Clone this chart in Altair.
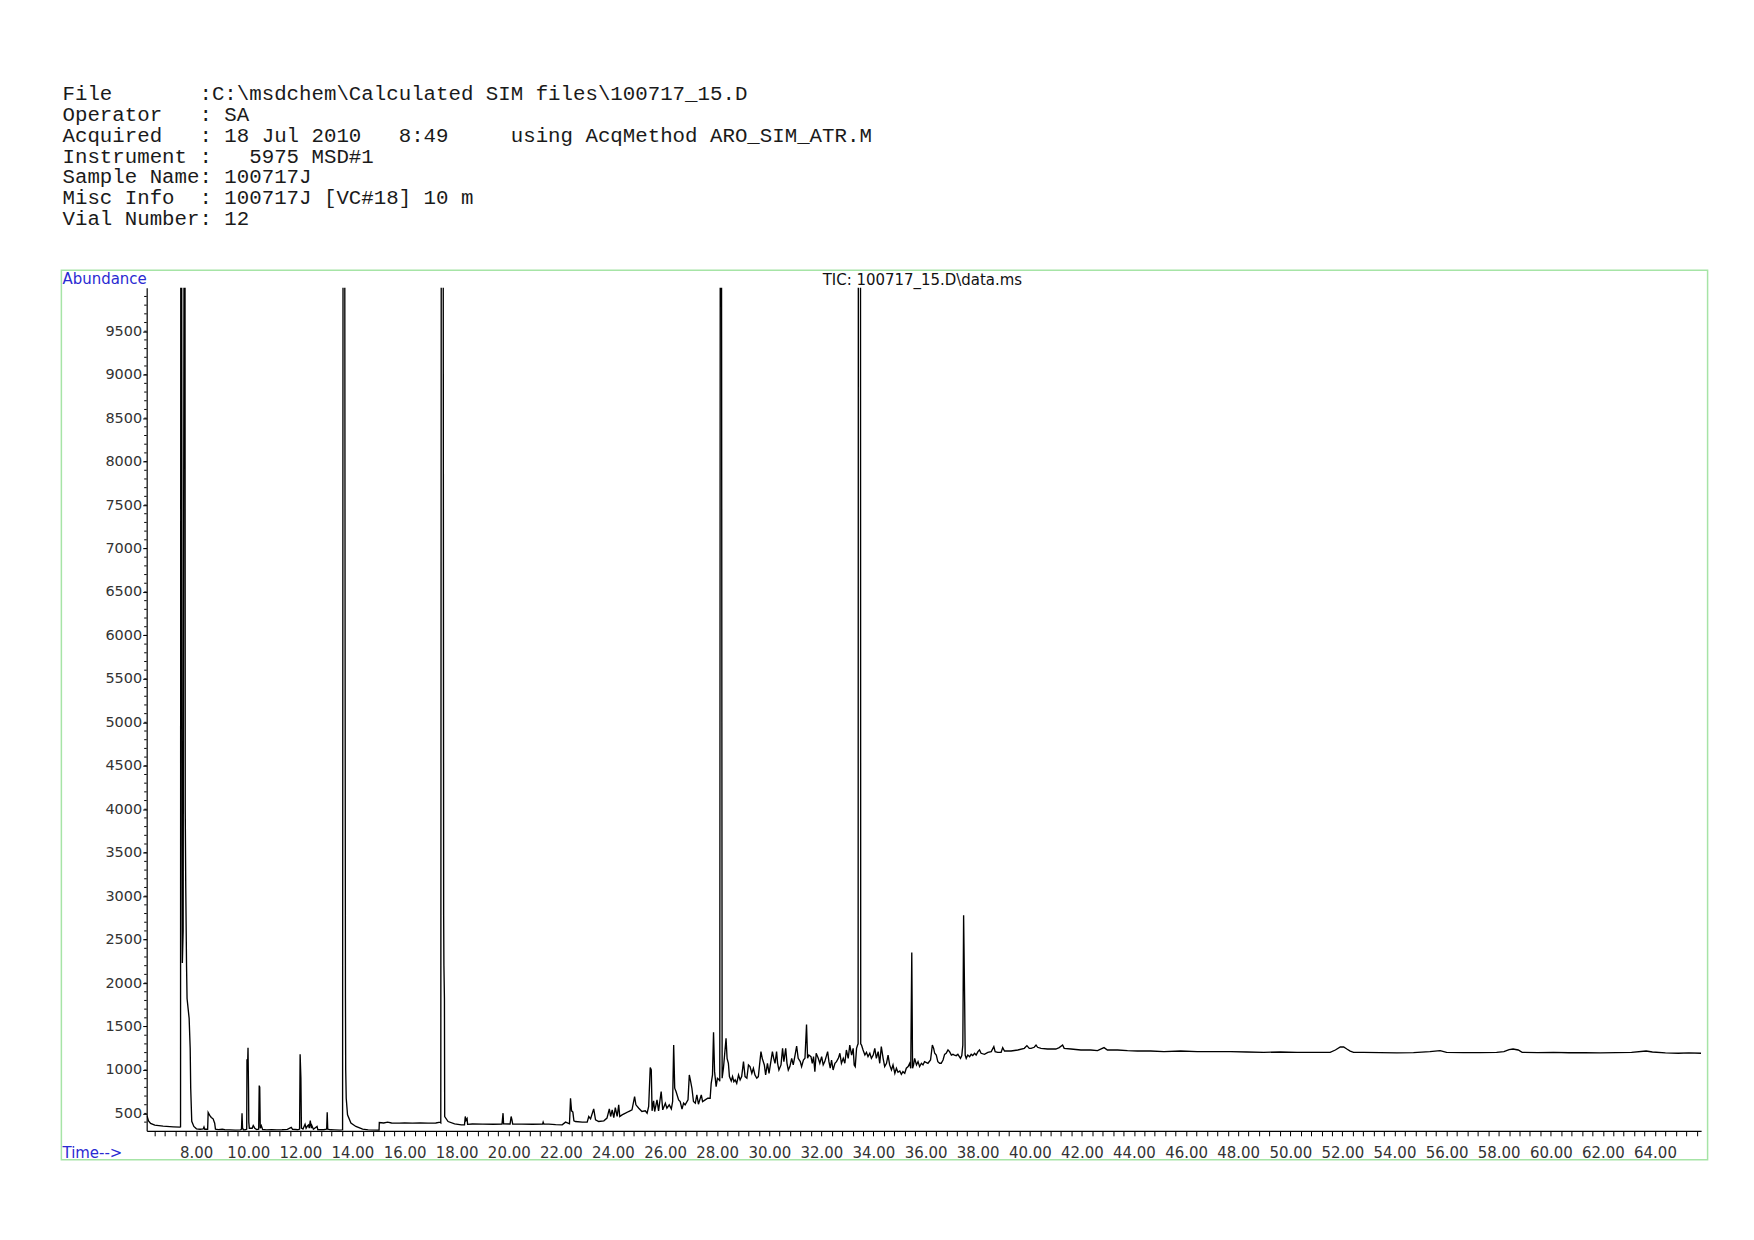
import altair as alt
import pandas as pd

# ---------------- data ----------------
# segment 1: 6.1 - 15.0 min
t_seg1 = [6.10, 6.12, 6.17, 6.25, 6.41, 6.73, 7.12, 7.38, 7.40, 7.41, 7.44, 7.46, 7.47, 7.50, 7.54, 7.57,
          7.58, 7.60, 7.63, 7.65, 7.73, 7.77, 7.79, 7.83, 7.91, 8.01, 8.15, 8.27, 8.30, 8.33, 8.44, 8.46,
          8.52, 8.58, 8.65, 8.71, 8.74, 8.85, 9.00, 9.10, 9.30, 9.50, 9.70, 9.74, 9.76, 9.78, 9.82, 9.90,
          9.94, 9.95, 9.97, 9.99, 10.01, 10.02, 10.04, 10.15, 10.19, 10.25, 10.32, 10.40, 10.42, 10.44,
          10.46, 10.50, 10.55, 10.70, 10.90, 11.10, 11.30, 11.50, 11.65, 11.70, 11.90, 11.97, 11.99, 12.02,
          12.04, 12.10, 12.18, 12.22, 12.28, 12.31, 12.34, 12.38, 12.42, 12.44, 12.50, 12.64, 12.67, 12.90,
          13.01, 13.03, 13.05, 13.15, 13.30, 13.50, 13.62, 13.64, 13.70, 13.72, 13.73, 13.74, 13.76, 13.81,
          13.94, 14.13, 14.39, 14.60, 14.80, 15.02]
a_seg1 = [475, 465, 415, 385, 365, 354, 346, 342, 345, 12000, 12000, 3580, 2230, 2600, 12000, 12000,
          4000, 3100, 2200, 1823, 1594, 1249, 790, 409, 350, 323, 318, 322, 345, 318, 318, 511,
          477, 454, 438, 388, 320, 314, 318, 312, 310, 308, 310, 320, 503, 330, 310, 312,
          320, 1122, 1000, 1256, 770, 400, 330, 330, 360, 330, 315, 320, 820, 800,
          330, 360, 315, 310, 312, 310, 312, 316, 340, 318, 312, 320, 1180, 904,
          330, 320, 376, 330, 360, 368, 330, 418, 330, 360, 318, 350, 312, 312,
          320, 514, 320, 312, 310, 308, 310, 12000, 12000, 4900, 1823, 1000, 675, 484,
          389, 350, 320, 310, 308, 307]

# segment 2: 15.0 - 22.3 min
t_seg2 = [15.03, 15.20, 15.35, 15.50, 15.80, 16.00, 16.30, 16.60, 16.90, 17.20, 17.36, 17.39, 17.41,
          17.48, 17.50, 17.51, 17.53, 17.54, 17.67, 17.92, 18.18, 18.30, 18.33, 18.36, 18.40, 18.42,
          18.60, 19.00, 19.40, 19.74, 19.78, 19.80, 20.05, 20.09, 20.12, 20.15, 20.50, 20.90, 21.30,
          21.32, 21.35, 21.54, 21.80, 22.05, 22.18, 22.33]
a_seg2 = [396, 390, 400, 390, 388, 392, 388, 390, 388, 390, 400, 392, 12000,
          12000, 2780, 2200, 1823, 464, 407, 380, 369, 370, 465, 420, 440, 375,
          378, 377, 376, 378, 503, 380, 378, 465, 430, 378, 377, 376, 378,
          400, 377, 377, 372, 369, 400, 381]

# segment 3: 22.3 - 40.7 min (rising hump)
t_seg3 = [22.37, 22.41, 22.46, 22.50, 22.56, 22.82, 23.01, 23.07, 23.14, 23.26, 23.33, 23.45, 23.65,
          23.77, 23.86, 23.91, 23.97, 24.03, 24.09, 24.16, 24.22, 24.26, 24.35, 24.48, 24.60, 24.73,
          24.83, 24.88, 24.99, 25.11, 25.24, 25.31, 25.37, 25.43, 25.47, 25.50, 25.56, 25.60, 25.69,
          25.75, 25.85, 25.91, 26.01, 26.07, 26.16, 26.24, 26.29, 26.33, 26.37, 26.42, 26.52, 26.58,
          26.65, 26.71, 26.77, 26.88, 26.93, 26.97, 27.03, 27.09, 27.16, 27.22, 27.28, 27.39, 27.44,
          27.54, 27.64, 27.73, 27.77, 27.82, 27.86, 27.90, 27.96, 28.01, 28.08, 28.10, 28.12, 28.16,
          28.17, 28.18, 28.19, 28.24, 28.34, 28.38, 28.43, 28.47, 28.54, 28.59, 28.64, 28.69, 28.75,
          28.82, 28.88, 28.94, 29.01, 29.07, 29.14, 29.20, 29.26, 29.33, 29.39, 29.45, 29.52, 29.58,
          29.68, 29.73, 29.81, 29.86, 29.93, 29.99, 30.03, 30.12, 30.17, 30.22, 30.28, 30.32, 30.37,
          30.45, 30.51, 30.56, 30.63, 30.68, 30.73, 30.79, 30.86, 30.92, 30.99, 31.05, 31.11, 31.19,
          31.24, 31.31, 31.37, 31.43, 31.47, 31.52, 31.60, 31.65, 31.70, 31.75, 31.80, 31.88, 31.94,
          32.01, 32.07, 32.13, 32.24, 32.29, 32.34, 32.39, 32.45, 32.52, 32.58, 32.65, 32.71, 32.77,
          32.84, 32.90, 32.96, 33.03, 33.09, 33.16, 33.22, 33.26, 33.30, 33.35, 33.39, 33.41, 33.42,
          33.50, 33.51, 33.54, 33.60, 33.67, 33.73, 33.79, 33.86, 33.92, 33.99, 34.05, 34.11, 34.18,
          34.24, 34.30, 34.37, 34.43, 34.50, 34.56, 34.62, 34.69, 34.75, 34.82, 34.88, 34.94, 35.01,
          35.07, 35.13, 35.20, 35.26, 35.33, 35.39, 35.43, 35.47, 35.50, 35.54, 35.58, 35.65, 35.71,
          35.77, 35.84, 35.90, 35.96, 36.09, 36.19, 36.26, 36.31, 36.35, 36.41, 36.47, 36.54, 36.60,
          36.67, 36.73, 36.79, 36.86, 36.92, 36.99, 37.05, 37.11, 37.18, 37.24, 37.34, 37.39, 37.43,
          37.46, 37.50, 37.52, 37.56, 37.62, 37.69, 37.75, 37.81, 37.88, 37.94, 38.01, 38.07, 38.13,
          38.26, 38.39, 38.52, 38.62, 38.67, 38.77, 38.90, 38.96, 39.03, 39.28, 39.54, 39.79, 39.89,
          39.98, 40.05, 40.17, 40.24, 40.30, 40.43, 40.68]
a_seg3 = [675, 530, 515, 415, 407, 400, 400, 465, 438, 553, 427, 407, 415,
          446, 553, 465, 541, 453, 568, 465, 599, 465, 484, 503, 522, 541,
          694, 599, 560, 522, 530, 503, 580, 1027, 1000, 530, 645, 522, 656,
          530, 752, 541, 618, 560, 599, 553, 637, 1287, 790, 752, 656, 637,
          549, 618, 599, 656, 943, 886, 790, 637, 618, 714, 606, 714, 637,
          656, 675, 675, 847, 943, 1433, 981, 809, 905, 886, 870, 12000, 12000,
          9400, 5000, 905, 1020, 1364, 1134, 1077, 924, 874, 924, 866, 886, 847,
          943, 886, 924, 1096, 924, 905, 1058, 1039, 962, 1020, 943, 905, 924,
          1211, 1134, 1058, 943, 1077, 962, 1039, 1211, 1134, 1077, 1211, 1077, 1000,
          1058, 1249, 1096, 1249, 1077, 1000, 1039, 1134, 1058, 1172, 1276, 1134, 1096,
          1039, 1115, 1134, 1524, 1134, 1172, 1153, 1077, 1153, 981, 1192, 1134, 1077,
          1153, 1058, 1096, 1211, 1096, 1020, 1115, 1000, 1077, 1096, 1134, 1192, 1077,
          1134, 1077, 1230, 1134, 1287, 1172, 1249, 1058, 1039, 1249, 1287, 1300, 12000,
          12000, 1300, 1287, 1230, 1172, 1203, 1153, 1192, 1134, 1172, 1249, 1134, 1211,
          1077, 1268, 1134, 1039, 1077, 1172, 1058, 1000, 1058, 962, 1020, 974, 989,
          951, 981, 962, 1020, 1039, 1077, 1020, 2351, 1020, 1058, 1134, 1058, 1096,
          1039, 1077, 1058, 1096, 1077, 1115, 1287, 1249, 1192, 1172, 1096, 1077, 1077,
          1115, 1180, 1192, 1230, 1211, 1172, 1180, 1172, 1165, 1180, 1134, 1165, 1287,
          2780, 1782, 1172, 1134, 1172, 1153, 1180, 1165, 1192, 1172, 1211, 1230, 1192,
          1180, 1203, 1211, 1268, 1211, 1203, 1203, 1257, 1218, 1218, 1230, 1249, 1280,
          1249, 1249, 1261, 1287, 1261, 1249, 1241]

# segment 4: 41 - 65.8 min (flat tail)
t_seg4 = [41.00, 41.13, 41.26, 41.32, 41.58, 41.96, 42.34, 42.60, 42.85, 42.98, 43.37, 43.75, 44.13,
          44.64, 45.15, 45.79, 46.43, 47.07, 47.71, 48.34, 48.98, 49.62, 50.26, 50.90, 51.53, 51.73,
          51.92, 52.05, 52.17, 52.30, 52.43, 52.81, 53.45, 54.09, 54.73, 55.36, 55.75, 56.00, 56.64,
          57.28, 57.92, 58.20, 58.40, 58.55, 58.75, 58.90, 59.50, 60.10, 60.70, 61.30, 61.90, 62.50,
          63.10, 63.66, 63.90, 64.40, 64.90, 65.30, 65.77]
a_seg4 = [1241, 1257, 1287, 1249, 1241, 1230, 1230, 1222, 1257, 1230, 1230, 1222, 1218,
          1218, 1211, 1218, 1211, 1211, 1211, 1207, 1203, 1207, 1203, 1203, 1203, 1230,
          1264, 1264, 1241, 1218, 1203, 1203, 1200, 1196, 1200, 1211, 1222, 1203, 1200,
          1200, 1203, 1211, 1235, 1241, 1230, 1203, 1200, 1203, 1198, 1200, 1196, 1200,
          1203, 1218, 1207, 1196, 1192, 1196, 1192]

# axis ticks
y_label_ticks = [500 * k for k in range(1, 20)]          # 500 ... 9500
y_minor_ticks = [100 * k for k in range(4, 100)]         # every 100
x_ticks = [round(6.4 + 0.4 * k, 1) for k in range(149)]  # every 0.4 min

header_lines = [
    "File       :C:\\msdchem\\Calculated SIM files\\100717_15.D",
    "Operator   : SA",
    "Acquired   : 18 Jul 2010   8:49     using AcqMethod ARO_SIM_ATR.M",
    "Instrument :   5975 MSD#1",
    "Sample Name: 100717J",
    "Misc Info  : 100717J [VC#18] 10 m",
    "Vial Number: 12",
]
plot_title = "TIC: 100717_15.D\\data.ms"

# ---------------- chart ----------------
df = pd.DataFrame({"t": t_seg1 + t_seg2 + t_seg3 + t_seg4,
                   "a": a_seg1 + a_seg2 + a_seg3 + a_seg4})

W, H = 1558, 845
XDOM = [6.1, 65.77]
YDOM = [300, 10000]
SANS = "DejaVu Sans"
BLUE = "#2a2ad2"
GREEN = "#a6e4a6"

one = pd.DataFrame({"k": [0]})

frame = alt.Chart(one).mark_rect(filled=False, stroke=GREEN, strokeWidth=1.5).encode(
    x=alt.value(-85.5), x2=alt.value(1564.5), y=alt.value(-17.5), y2=alt.value(874)
)

label_expr = ("(abs(datum.value % 2) < 0.01 || abs(datum.value % 2 - 2) < 0.01) "
              "? format(datum.value, '.2f') : ''")

y_scale = alt.Scale(domain=YDOM, nice=False, zero=False)
y_axis = alt.Axis(values=y_label_ticks, format="d", title=None, grid=False, domainColor="black",
                  domainWidth=1.2, tickColor="black", tickSize=4, tickWidth=1,
                  labelFont=SANS, labelFontSize=14.5, labelColor="#333",
                  labelPadding=1, labelOverlap=False)

line = alt.Chart(df).mark_line(color="black", strokeWidth=1.35, clip=True).encode(
    x=alt.X("t:Q", scale=alt.Scale(domain=XDOM, nice=False, zero=False),
            axis=alt.Axis(values=x_ticks, labelExpr=label_expr, title=None, grid=False,
                          domainColor="black", domainWidth=1.2, tickColor="black", tickSize=5,
                          tickWidth=1, labelFont=SANS, labelFontSize=15, labelColor="#333",
                          labelPadding=10, labelOverlap=False, labelFlush=False)),
    y=alt.Y("a:Q", scale=y_scale, axis=y_axis),
)

minor = alt.Chart(pd.DataFrame({"a": y_minor_ticks})).mark_rule(color="black", strokeWidth=1).encode(
    y=alt.Y("a:Q", scale=y_scale, axis=y_axis),
    x=alt.value(-2.5), x2=alt.value(0)
)

layers = [frame, line, minor]

for i, txt in enumerate(header_lines):
    layers.append(
        alt.Chart(one).mark_text(text=txt.replace(" ", "\u00a0"), align="left", baseline="middle",
                                 font="Liberation Mono", fontSize=20.8, color="#1a1a1a").encode(
            x=alt.value(-84.4), y=alt.value(-194.2 + 20.9 * i))
    )

layers.append(alt.Chart(one).mark_text(text="Abundance", align="left", baseline="middle",
                                       font=SANS, fontSize=15, color=BLUE).encode(
    x=alt.value(-84.4), y=alt.value(-8.5)))
layers.append(alt.Chart(one).mark_text(text="Time-->", align="left", baseline="middle",
                                       font=SANS, fontSize=15, color=BLUE).encode(
    x=alt.value(-84.4), y=alt.value(867)))
layers.append(alt.Chart(one).mark_text(text=plot_title, align="center", baseline="middle",
                                       font=SANS, fontSize=15, color="#111").encode(
    x=alt.value(777.5), y=alt.value(-7.5)))

chart = alt.layer(*layers).properties(
    width=W, height=H,
    autosize=alt.AutoSizeParams(type="none"),
    padding={"left": 139, "top": 279, "right": 45, "bottom": 95},
).configure_view(stroke=None)

chart.save("out.html", embed_options={"renderer": "svg", "actions": False})
